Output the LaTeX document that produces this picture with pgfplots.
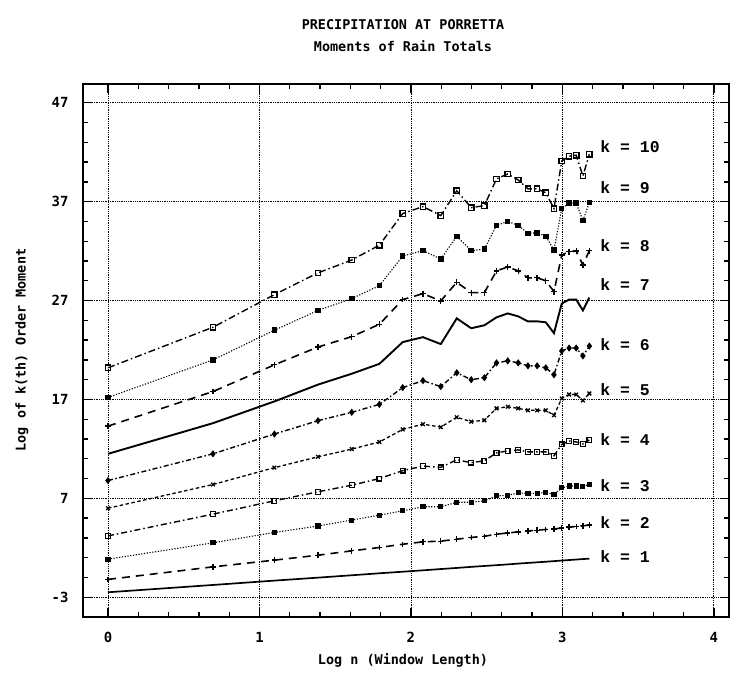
\documentclass[border=0pt]{standalone}
\usepackage{fontspec}
\setmainfont{DejaVu Sans Mono}
\newfontfamily\kfont{Liberation Mono}
\usepackage{pgfplots}
\usepackage{pgfplotstable}
\pgfplotsset{compat=1.18}

% log n (window length) and log of k-th order moment, k = 1..10
\pgfplotstableread{
n  x      k1    k2    k3    k4    k5    k6    k7    k8    k9    k10
1  0.0000 -2.50 -1.20 0.85  3.20  6.00  8.80  11.5  14.30 17.20 20.2
2  0.6931 -1.76 0.07  2.50  5.40  8.40  11.5  14.6  17.80 21.00 24.3
3  1.0986 -1.32 0.75  3.55  6.75  10.10 13.5  16.8  20.50 24.00 27.6
4  1.3863 -1.02 1.25  4.20  7.66  11.20 14.85 18.5  22.30 26.00 29.8
5  1.6094 -0.78 1.69  4.80  8.33  11.98 15.7  19.6  23.35 27.20 31.1
6  1.7918 -0.58 2.03  5.30  9.00  12.70 16.5  20.6  24.60 28.50 32.6
7  1.9459 -0.42 2.36  5.74  9.80  13.97 18.2  22.8  27.10 31.50 35.8
8  2.0794 -0.28 2.60  6.15  10.26 14.50 18.9  23.3  27.70 32.05 36.5
9  2.1972 -0.15 2.67  6.15  10.13 14.20 18.3  22.6  26.96 31.20 35.6
10 2.3026 -0.04 2.87  6.60  10.90 15.20 19.7  25.2  28.85 33.50 38.1
11 2.3979 0.07  3.04  6.60  10.60 14.75 19.0  24.2  27.80 32.05 36.4
12 2.4849 0.16  3.17  6.75  10.80 14.90 19.2  24.5  27.80 32.20 36.6
13 2.5649 0.24  3.37  7.25  11.60 16.10 20.7  25.3  30.00 34.60 39.3
14 2.6391 0.32  3.50  7.30  11.80 16.26 20.9  25.7  30.40 35.00 39.8
15 2.7081 0.40  3.60  7.55  11.90 16.10 20.7  25.4  30.00 34.60 39.2
16 2.7726 0.47  3.70  7.50  11.70 15.90 20.4  24.9  29.30 33.80 38.3
17 2.8332 0.53  3.78  7.50  11.70 15.90 20.4  24.9  29.30 33.85 38.3
18 2.8904 0.59  3.85  7.60  11.70 15.90 20.2  24.8  29.00 33.50 37.9
19 2.9444 0.65  3.90  7.40  11.30 15.40 19.5  23.7  27.90 32.10 36.3
20 2.9957 0.71  4.00  8.05  12.45 17.10 21.9  26.7  31.60 36.30 41.1
21 3.0445 0.76  4.10  8.25  12.80 17.50 22.2  27.1  31.95 36.85 41.6
22 3.0910 0.81  4.15  8.25  12.70 17.50 22.2  27.1  32.00 36.85 41.7
23 3.1355 0.86  4.22  8.20  12.50 16.90 21.4  26.0  30.60 35.10 39.6
24 3.1781 0.90  4.30  8.40  12.90 17.60 22.4  27.3  32.05 36.90 41.8
}\moments

\begin{document}
\begin{tikzpicture}[klabel/.style={anchor=west, inner sep=0pt, font=\kfont\bfseries\fontsize{16.5}{18}\selectfont}]
\begin{axis}[
    scale only axis,
    width=646bp, height=533bp,
    xmin=-0.165, xmax=4.1,
    ymin=-5, ymax=48.9,
    xtick={0,1,2,3,4},
    ytick={-3,7,17,27,37,47},
    minor xtick={-0.2,0.2,0.4,...,4.0},
    minor ytick={-5,-1,1,3,5,9,11,13,15,19,21,23,25,29,31,33,35,39,41,43,45},
    tick align=inside,
    major tick length=9bp, minor tick length=5bp,
    every tick/.style={black, line width=1.3pt},
    axis line style={line width=1.9pt},
    grid=major,
    major grid style={black, line width=0.8pt, dash pattern=on 0.8pt off 1pt},
    /pgf/number format/assume math mode=true,
    ticklabel style={font=\fontsize{14}{16}\selectfont\bfseries},
    xticklabel style={yshift=-12bp},
    yticklabel style={xshift=-11bp},
    every axis plot/.append style={black},
    mark options={solid},
    clip=false,
]
\addplot[line width=1.7pt, no marks] table[x=x, y=k1] {\moments};
\addplot[line width=1.6pt, dash pattern=on 8bp off 6bp, mark=+, mark size=2.7bp, mark options={solid, line width=1.3pt}] table[x=x, y=k2] {\moments};
\addplot[line width=1.1pt, dash pattern=on 1.2bp off 1.6bp, mark=square*, mark size=2bp] table[x=x, y=k3] {\moments};
\addplot[line width=1.4pt, dash pattern=on 6bp off 3bp on 1.5bp off 3bp, mark=square, mark size=2.4bp, mark options={solid, line width=1.3pt}] table[x=x, y=k4] {\moments};
\addplot[line width=1.3pt, dash pattern=on 3.5bp off 2.5bp, mark=x, mark size=2.6bp, mark options={solid, line width=1.3pt}] table[x=x, y=k5] {\moments};
\addplot[line width=1.4pt, dash pattern=on 5bp off 2.5bp on 1.5bp off 2.5bp, mark=diamond*, mark size=2.5bp] table[x=x, y=k6] {\moments};
\addplot[line width=1.9pt, no marks] table[x=x, y=k7] {\moments};
\addplot[line width=1.6pt, dash pattern=on 8bp off 6bp, mark=+, mark size=2.9bp, mark options={solid, line width=1.3pt}] table[x=x, y=k8] {\moments};
\addplot[line width=1.1pt, dash pattern=on 1.2bp off 1.6bp, mark=square*, mark size=2.2bp] table[x=x, y=k9] {\moments};
\addplot[line width=1.4pt, dash pattern=on 7bp off 3bp on 1.5bp off 3bp, mark=square, mark size=2.7bp, mark options={solid, line width=1.3pt}] table[x=x, y=k10] {\moments};

\node[klabel] at (axis cs:3.25,1.15) {k = 1};
\node[klabel] at (axis cs:3.25,4.6) {k = 2};
\node[klabel] at (axis cs:3.25,8.3) {k = 3};
\node[klabel] at (axis cs:3.25,12.9) {k = 4};
\node[klabel] at (axis cs:3.25,17.95) {k = 5};
\node[klabel] at (axis cs:3.25,22.5) {k = 6};
\node[klabel] at (axis cs:3.25,28.6) {k = 7};
\node[klabel] at (axis cs:3.25,32.6) {k = 8};
\node[klabel] at (axis cs:3.25,38.4) {k = 9};
\node[klabel] at (axis cs:3.25,42.6) {k = 10};
\end{axis}
\node[font=\fontsize{13.5}{15}\selectfont\bfseries] at (320bp,592bp) {PRECIPITATION AT PORRETTA};
\node[font=\fontsize{13.5}{15}\selectfont\bfseries] at (320bp,571bp) {Moments of Rain Totals};
\node[font=\fontsize{13.5}{15}\selectfont\bfseries] at (320bp,-43bp) {Log n (Window Length)};
\node[rotate=90, font=\fontsize{13.5}{15}\selectfont\bfseries] at (-61bp,267bp) {Log of k(th) Order Moment};
\pgfresetboundingbox
\path[use as bounding box] (-83bp,-59bp) rectangle (648bp,617bp);
\end{tikzpicture}
\end{document}
